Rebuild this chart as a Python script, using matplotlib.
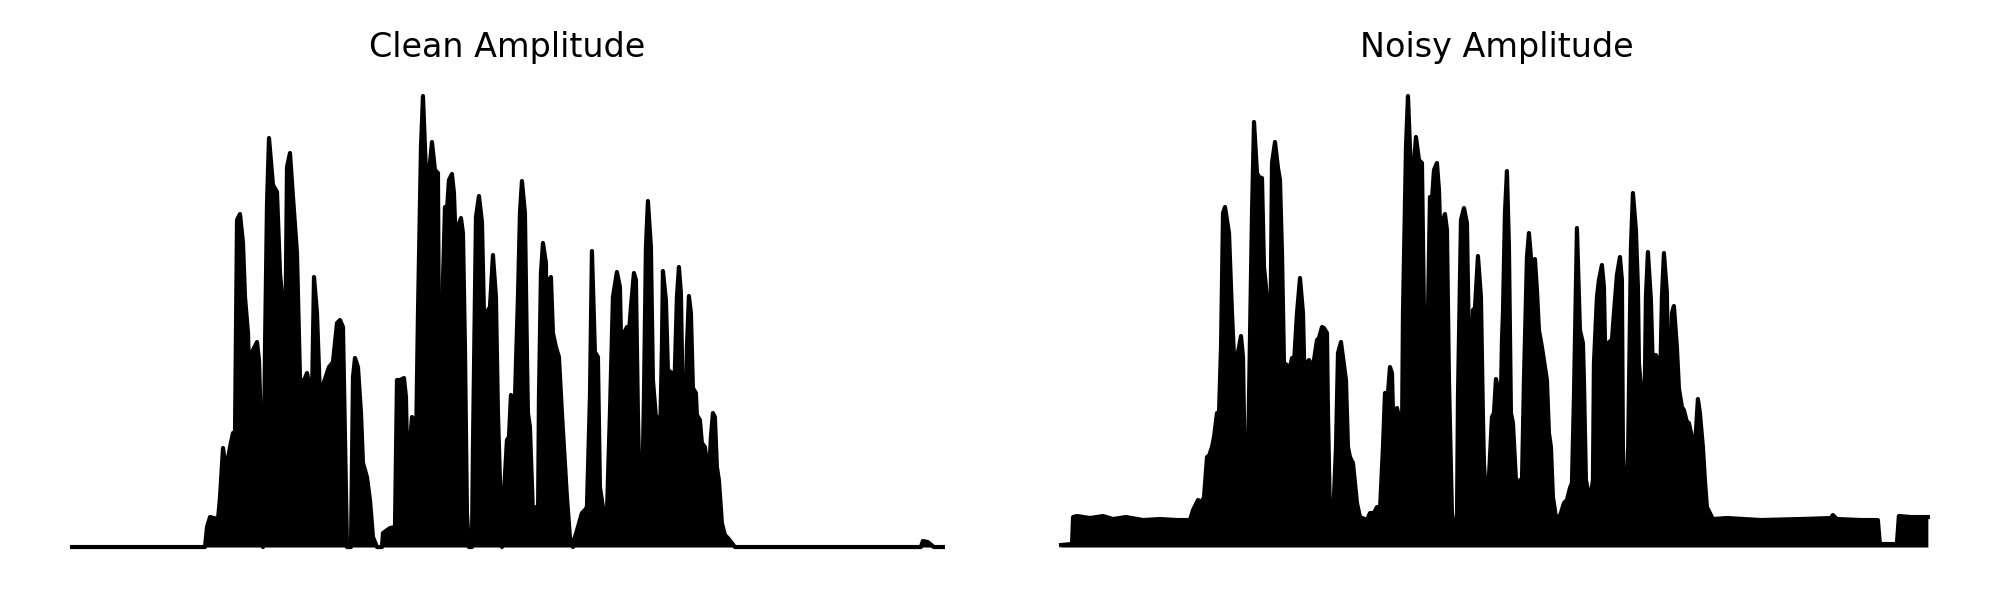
import matplotlib
matplotlib.use("Agg")
import matplotlib.pyplot as plt

titles = ["Clean Amplitude", "Noisy Amplitude"]

# frame index (time) and absolute amplitude envelope, clean signal
clean_frame = [
    0, 133, 135, 138, 146, 148, 151, 154, 158, 161,
    163, 165, 168, 171, 173, 176, 177, 180, 185, 187,
    189, 191, 193, 195, 197, 201, 205, 208, 211, 213,
    215, 218, 221, 225, 228, 231, 235, 240, 242, 245,
    248, 252, 257, 261, 265, 268, 271, 275, 279, 281,
    283, 286, 289, 291, 295, 298, 301, 305, 310, 311,
    318, 323, 325, 328, 332, 334, 335, 337, 340, 342,
    344, 346, 349, 351, 353, 355, 358, 360, 363, 366,
    367, 369, 371, 373, 375, 377, 380, 382, 384, 386,
    389, 391, 393, 395, 397, 400, 401, 404, 407, 410,
    412, 414, 416, 418, 421, 424, 426, 428, 430, 432,
    435, 437, 439, 441, 442, 444, 446, 448, 450, 453,
    455, 456, 458, 461, 464, 466, 467, 469, 471, 474,
    475, 477, 479, 481, 484, 487, 490, 492, 495, 498,
    501, 503, 506, 510, 513, 515, 518, 520, 523, 526,
    528, 531, 535, 538, 541, 545, 548, 550, 552, 555,
    557, 559, 562, 564, 566, 568, 570, 572, 574, 576,
    579, 581, 584, 586, 588, 590, 591, 594, 596, 600,
    602, 605, 607, 609, 611, 613, 615, 617, 619, 621,
    624, 625, 628, 630, 633, 635, 636, 639, 641, 643,
    645, 647, 650, 653, 656, 660, 663, 849, 851, 856,
    862, 871,
]
clean_amp = [
    0, 0, .040, .060, .056, .100, .198, .154, .200, .228,
    .230, .654, .666, .608, .500, .428, .354, .390, .410, .374,
    .240, 0, .400, .688, .818, .724, .710, .548, .480, .354,
    .760, .788, .700, .588, .338, .328, .348, .300, .540, .468,
    .300, .330, .360, .370, .448, .454, .440, 0, 0, .340,
    .378, .360, .268, .168, .140, .094, .020, 0, 0, .028,
    .038, .040, .334, .334, .338, .300, .200, .180, .260, .254,
    .200, .468, .800, .902, .800, .698, .768, .810, .754, .748,
    .400, .154, .534, .680, .674, .734, .746, .708, .600, .640,
    .658, .628, .400, .068, 0, 0, .200, .660, .702, .650,
    .468, .334, .474, .480, .584, .500, .268, .134, 0, .108,
    .214, .220, .304, .300, .220, .368, .500, .668, .732, .668,
    .388, .268, .240, .068, .080, .040, .300, .548, .608, .568,
    .284, .534, .540, .428, .400, .380, .268, .200, .100, .020,
    0, .020, .040, .068, .074, .080, .300, .592, .390, .380,
    .120, .080, .068, .268, .500, .550, .520, .334, .428, .440,
    .428, .480, .548, .534, .268, .080, .074, .300, .600, .692,
    .600, .334, .260, .260, .200, .400, .552, .494, .354, .348,
    .288, .500, .560, .508, .268, .174, .400, .502, .468, .318,
    .308, .264, .254, .208, .200, .168, .100, .220, .268, .260,
    .160, .134, .048, .024, .018, .008, 0, 0, .012, .010,
    0, 0,
]

# frame index (time) and absolute amplitude envelope, noisy signal
noisy_frame = [
    0, 11, 12, 16, 29, 42, 52, 65, 82, 99,
    116, 129, 132, 137, 141, 143, 146, 148, 151, 153,
    156, 158, 160, 162, 164, 166, 168, 171, 173, 176,
    178, 180, 182, 184, 186, 188, 191, 193, 196, 198,
    201, 203, 205, 207, 209, 211, 214, 217, 219, 221,
    223, 226, 228, 231, 233, 236, 239, 242, 244, 246,
    248, 251, 253, 256, 258, 261, 263, 266, 267, 269,
    272, 275, 277, 280, 282, 285, 287, 289, 292, 294,
    296, 299, 306, 309, 313, 316, 319, 322, 324, 327,
    329, 331, 333, 336, 338, 341, 342, 345, 347, 349,
    351, 353, 355, 358, 361, 363, 365, 367, 369, 371,
    373, 376, 378, 380, 382, 384, 386, 388, 391, 392,
    396, 397, 400, 403, 406, 408, 410, 412, 414, 417,
    420, 422, 423, 426, 428, 431, 433, 435, 437, 439,
    441, 442, 444, 446, 448, 450, 452, 455, 457, 459,
    461, 463, 466, 468, 470, 472, 474, 476, 478, 481,
    483, 486, 488, 490, 492, 495, 497, 500, 503, 506,
    509, 511, 513, 515, 516, 519, 522, 523, 525, 527,
    530, 532, 533, 536, 538, 541, 543, 545, 547, 551,
    553, 556, 559, 561, 562, 564, 566, 567, 570, 572,
    575, 577, 578, 581, 583, 585, 587, 590, 592, 595,
    597, 599, 601, 603, 606, 608, 611, 613, 616, 618,
    621, 623, 626, 628, 631, 632, 634, 637, 639, 642,
    644, 646, 649, 652, 666, 700, 740, 770, 772, 776,
    800, 817, 819, 836, 838, 850, 860, 867,
]
noisy_amp = [
    .004, .006, .060, .062, .058, .062, .056, .060, .054, .056,
    .054, .054, .074, .094, .090, .100, .180, .182, .200, .220,
    .268, .268, .400, .668, .680, .654, .628, .468, .380, .380,
    .400, .422, .380, .134, .054, .300, .668, .850, .748, .740,
    .738, .560, .520, .474, .340, .768, .810, .758, .734, .588,
    .368, .364, .348, .378, .368, .468, .538, .468, .300, .368,
    .374, .360, .374, .414, .418, .440, .438, .428, .268, .060,
    .054, .200, .388, .410, .380, .334, .200, .180, .168, .128,
    .088, .060, .054, .068, .068, .080, .074, .200, .308, .308,
    .360, .348, .200, .278, .260, .218, .468, .800, .902, .800,
    .680, .768, .820, .774, .768, .468, .174, .468, .700, .694,
    .754, .768, .714, .588, .654, .666, .634, .334, .068, .054,
    .054, .300, .654, .678, .648, .400, .330, .474, .478, .582,
    .500, .260, .168, .068, .140, .260, .268, .336, .320, .200,
    .414, .468, .668, .752, .600, .268, .248, .134, .100, .134,
    .130, .334, .580, .628, .580, .284, .576, .514, .434, .400,
    .374, .334, .228, .200, .100, .060, .054, .068, .088, .094,
    .118, .128, .300, .534, .638, .434, .408, .334, .134, .114,
    .104, .134, .368, .500, .534, .564, .520, .318, .408, .414,
    .468, .544, .580, .534, .200, .088, .088, .168, .600, .708,
    .634, .520, .368, .298, .188, .500, .590, .494, .354, .384,
    .374, .308, .500, .588, .508, .200, .468, .482, .400, .318,
    .280, .274, .250, .248, .220, .120, .200, .296, .268, .200,
    .134, .080, .068, .056, .058, .054, .056, .058, .064, .056,
    .054, .054, .006, .006, .062, .060, .060, .060,
]

fig = plt.figure(figsize=(10, 3), dpi=200)
positions = [[0.01425, 0.0507, 0.479, 0.8269], [0.50875, 0.0507, 0.479, 0.8269]]
series = [(clean_frame, clean_amp), (noisy_frame, noisy_amp)]

for pos, (fr, amp), title in zip(positions, series, titles):
    ax = fig.add_axes(pos)
    ax.fill_between(fr, 0, amp, color="black", linewidth=0)
    ax.plot(fr, amp, color="black", linewidth=1.5)
    ax.set_xlim(-43.55, 914.65)
    ax.set_ylim(-0.0451, 0.9471)
    ax.set_title(title, fontsize=12)
    ax.axis("off")

fig.savefig("out.png", dpi=200)
